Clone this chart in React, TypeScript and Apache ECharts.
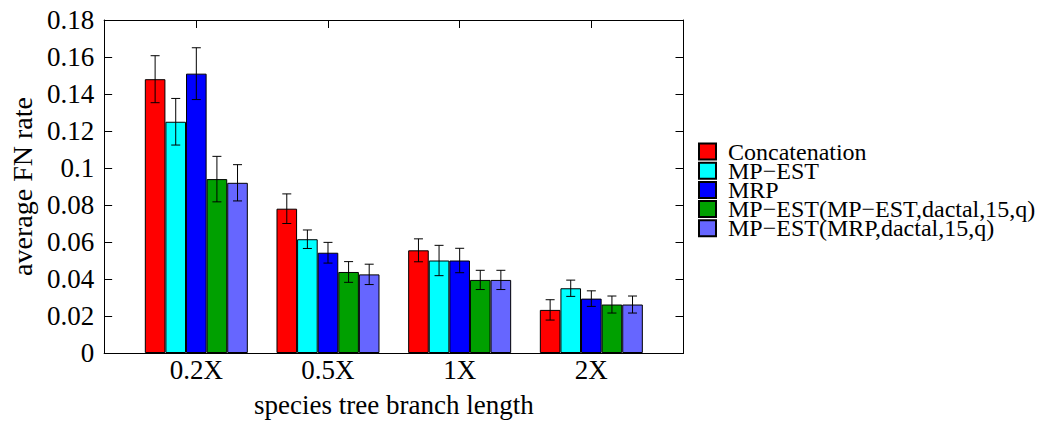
import React, { useEffect, useRef } from "react";
import * as echarts from "echarts";

const categories = ["0.2X", "0.5X", "1X", "2X"];
const seriesNames = [
  "Concatenation",
  "MP\u2212EST",
  "MRP",
  "MP\u2212EST(MP\u2212EST,dactal,15,q)",
  "MP\u2212EST(MRP,dactal,15,q)",
];
const concatenation = [0.148, 0.078, 0.0555, 0.0233];
const mpest = [0.125, 0.0615, 0.05, 0.035];
const mrp = [0.151, 0.0542, 0.05, 0.0294];
const mpestMpest = [0.094, 0.0438, 0.0395, 0.0262];
const mpestMrp = [0.092, 0.0425, 0.0395, 0.0262];

const concatenationErr = [0.0127, 0.008, 0.0062, 0.0055];
const mpestErr = [0.0126, 0.005, 0.0082, 0.0044];
const mrpErr = [0.014, 0.0056, 0.0066, 0.0042];
const mpestMpestErr = [0.0123, 0.0056, 0.0052, 0.0046];
const mpestMrpErr = [0.0098, 0.0055, 0.0052, 0.0046];

const yTicks = [0, 0.02, 0.04, 0.06, 0.08, 0.1, 0.12, 0.14, 0.16, 0.18];

const colors = ["#ff0000", "#00ffff", "#0000ff", "#00a000", "#6666ff"];
const allValues = [concatenation, mpest, mrp, mpestMpest, mpestMrp];
const allErrs = [concatenationErr, mpestErr, mrpErr, mpestMpestErr, mpestMrpErr];

const FONT = "'Liberation Serif', 'Times New Roman', serif";
const BAR_W = 20.6;
const CAP = 4.5;

export default function App() {
  const ref = useRef<HTMLDivElement>(null);
  useEffect(() => {
    if (!ref.current) return;
    const chart = echarts.init(ref.current, null, { renderer: "svg" });
    const catIdx = categories.map((_, i) => i);

    const barSeries = seriesNames.map((name, s) => ({
      name,
      type: "bar",
      xAxisIndex: 0,
      yAxisIndex: 0,
      barWidth: BAR_W,
      barGap: "0%",
      z: 2,
      itemStyle: { color: colors[s], borderColor: "#000", borderWidth: 1 },
      data: allValues[s].map((v, i) => [catIdx[i], v]),
    }));

    const errSeries = seriesNames.map((name, s) => ({
      name: name + " err",
      type: "custom",
      xAxisIndex: 0,
      yAxisIndex: 0,
      z: 3,
      silent: true,
      encode: { x: 0, y: [1, 2] },
      data: allValues[s].map((v, i) => [catIdx[i], v - allErrs[s][i], v + allErrs[s][i]]),
      renderItem: (params: any, api: any) => {
        const x = api.value(0);
        const pLo = api.coord([x, api.value(1)]);
        const pHi = api.coord([x, api.value(2)]);
        const cx = pLo[0] + (s - 2) * BAR_W;
        const st = { stroke: "#000", lineWidth: 1 };
        return {
          type: "group",
          children: [
            { type: "line", shape: { x1: cx, y1: pLo[1], x2: cx, y2: pHi[1] }, style: st },
            { type: "line", shape: { x1: cx - CAP, y1: pLo[1], x2: cx + CAP, y2: pLo[1] }, style: st },
            { type: "line", shape: { x1: cx - CAP, y1: pHi[1], x2: cx + CAP, y2: pHi[1] }, style: st },
          ],
        };
      },
    }));

    const axisLine = { show: true, onZero: false, lineStyle: { color: "#000", width: 1 } };
    const tickIn = { show: true, inside: true, length: 8, lineStyle: { color: "#000", width: 1 } };

    chart.setOption({
      animation: false,
      backgroundColor: "#fff",
      textStyle: { fontFamily: FONT },
      grid: { left: 103, top: 20, width: 580.5, height: 337.5, containLabel: false },
      legend: {
        data: seriesNames,
        orient: "vertical",
        left: 698,
        top: 139.5,
        padding: 0,
        itemWidth: 24,
        itemHeight: 16,
        itemGap: -4.8,
        icon: "path://M0,0L17,0L17,16L0,16Z M24,8L24,8",
        textStyle: { fontFamily: FONT, fontSize: 24, color: "#000" },
      },
      xAxis: [
        {
          type: "value",
          position: "bottom",
          min: -0.7,
          max: 3.7,
          axisLine,
          axisTick: { ...tickIn, customValues: catIdx },
          axisLabel: {
            customValues: catIdx,
            formatter: (v: number) => categories[Math.round(v)] ?? "",
            fontFamily: FONT,
            fontSize: 27,
            color: "#000",
            margin: 3,
          },
          splitLine: { show: false },
          name: "species tree branch length",
          nameLocation: "middle",
          nameGap: 38,
          nameTextStyle: { fontFamily: FONT, fontSize: 27, color: "#000" },
        },
        {
          type: "value",
          position: "top",
          min: -0.7,
          max: 3.7,
          axisLine,
          axisTick: { ...tickIn, customValues: catIdx },
          axisLabel: { show: false },
          splitLine: { show: false },
        },
      ],
      yAxis: [
        {
          type: "value",
          position: "left",
          min: 0,
          max: 0.18,
          interval: 0.02,
          axisLine,
          axisTick: tickIn,
          axisLabel: {
            formatter: (v: number) => {
              const t = yTicks.find((k) => Math.abs(k - v) < 1e-9);
              return String(t !== undefined ? t : +v.toFixed(2));
            },
            fontFamily: FONT,
            fontSize: 27,
            color: "#000",
            margin: 10,
          },
          splitLine: { show: false },
          name: "average FN rate",
          nameLocation: "middle",
          nameGap: 66,
          nameTextStyle: { fontFamily: FONT, fontSize: 28, color: "#000" },
        },
        {
          type: "value",
          position: "right",
          min: 0,
          max: 0.18,
          interval: 0.02,
          axisLine,
          axisTick: tickIn,
          axisLabel: { show: false },
          splitLine: { show: false },
        },
      ],
      series: [...barSeries, ...errSeries],
    });
    return () => chart.dispose();
  }, []);
  return (
    <div
      ref={ref}
      style={{ position: "absolute", left: 0, top: 0, width: 1041, height: 423, background: "#fff" }}
    />
  );
}
